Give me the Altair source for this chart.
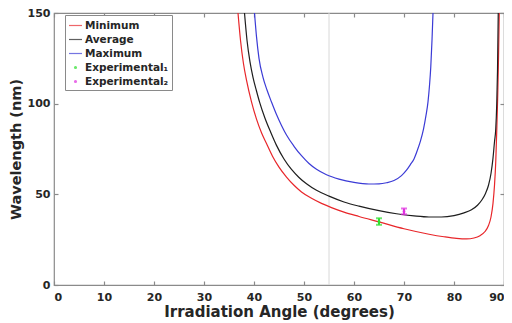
import altair as alt
import pandas as pd

# ---------------- data ----------------
series_names = ["Minimum", "Average", "Maximum", "Experimental\u2081", "Experimental\u2082"]
series_colors = ["#e8262a", "#1e1e1e", "#3b3bd6", "#2ee02e", "#e030e0"]
LINE_SYM = "M -1 0 L 1 0"
DOT_SYM = "M -0.15 0 A 0.15 0.15 0 1 0 0.15 0 A 0.15 0.15 0 1 0 -0.15 0 Z"
legend_shapes = [LINE_SYM, LINE_SYM, LINE_SYM, DOT_SYM, DOT_SYM]

min_x = [36.8, 37.3, 37.9, 38.5, 39.5, 40.5, 41.5, 42.5, 43.7, 45.0, 46.5, 48.0, 49.5, 51.5,
         53.5, 55.5, 58.0, 61.0, 65.0, 70.0, 75.0, 78.0, 80.5, 82.5, 84.0, 85.2, 86.2, 86.9,
         87.4, 87.8, 88.1, 88.35, 88.55, 88.75, 88.9, 89.05]
min_y = [150, 135, 122, 113, 101, 91.5, 84, 78, 71, 65, 59.5, 55, 51.3, 47.8,
         45, 42.7, 40.2, 37.8, 34.8, 31.0, 28.0, 26.6, 25.7, 25.4, 25.9, 27.2, 29.5, 32.8,
         37.5, 45, 55, 68, 85, 105, 125, 150]

avg_x = [38.1, 38.6, 39.2, 39.8, 40.5, 41.1, 42.2, 43.3, 44.5, 46.0, 47.5, 49.0, 50.5, 52.5,
         55.0, 58.0, 61.0, 65.0, 68.5, 72.0, 75.0, 77.5, 80.0, 82.0, 83.5, 84.7, 85.6, 86.3,
         86.9, 87.4, 87.8, 88.1, 88.35, 88.55, 88.7, 88.85]
avg_y = [150, 135, 123, 114.5, 107, 101, 92, 84.5, 77, 69.5, 63.7, 59.3, 55.8, 52.2,
         49, 45.8, 43.5, 41.0, 39.3, 38.1, 37.5, 37.5, 38.3, 39.8, 41.5, 44, 47, 50.5,
         55, 61.5, 70, 79, 86, 100, 118, 150]

max_x = [40.1, 40.5, 41.0, 41.8, 42.6, 43.5, 44.5, 45.5, 46.5, 48.0, 49.5, 51.0, 52.5, 54.5,
         57.0, 60.0, 63.0, 65.0, 66.5, 68.0, 69.5, 70.5, 71.3, 72.0, 72.7, 73.3, 73.9, 74.4,
         74.8, 75.1, 75.35, 75.6, 75.8]
max_y = [150, 137, 125, 114.5, 107.5, 100.9, 94, 88, 82.7, 76.5, 71.3, 67, 63.8, 60.8,
         58.4, 56.6, 55.7, 55.8, 56.4, 57.6, 60.3, 63.3, 66.5, 69.5, 74.5, 79.5, 86, 93.5,
         101, 110, 120, 135, 150]

exp_x = [65, 70]
exp_y = [35.0, 40.6]
exp_err = [1.8, 1.6]

ref_angle = [55]

x_ticks = [0, 10, 20, 30, 40, 50, 60, 70, 80, 90]
y_ticks = [0, 50, 100, 150]

# ---------------- tables ----------------
rows = []
for name, xs, ys in [(series_names[0], min_x, min_y),
                     (series_names[1], avg_x, avg_y),
                     (series_names[2], max_x, max_y)]:
    for i, (a, w) in enumerate(zip(xs, ys)):
        rows.append({"series": name, "angle": a, "wl": w, "order": i})
lines_df = pd.DataFrame(rows)

exp_df = pd.DataFrame({
    "series": series_names[3:],
    "angle": exp_x,
    "wl": exp_y,
    "lo": [y - e for y, e in zip(exp_y, exp_err)],
    "hi": [y + e for y, e in zip(exp_y, exp_err)],
})
vline_df = pd.DataFrame({"angle": ref_angle})

# ---------------- scales / axes ----------------
FONT = "DejaVu Sans"
TXT = "#262626"
FRAME = "#8a8a8a"
W = 450
H = 272

xscale = alt.Scale(domain=[0, 90], nice=False, padding=0)
yscale = alt.Scale(domain=[0, 150], nice=False, padding=0)
cscale = alt.Scale(domain=series_names, range=series_colors)
shscale = alt.Scale(domain=series_names, range=legend_shapes)

main_x_axis = alt.Axis(values=x_ticks, title="Irradiation Angle (degrees)", ticks=False,
                       labelPadding=6, titlePadding=2, orient="bottom",
                       labelFlush=True, labelFlushOffset=0, titleFontSize=15)
main_y_axis = alt.Axis(values=y_ticks, title="Wavelength (nm)", ticks=False,
                       labelPadding=4, titlePadding=4, orient="left", titleFontSize=14.5)


def tick_axis(vals, orient):
    return alt.Axis(values=vals, labels=False, title=None, ticks=True, tickSize=4,
                    offset=-4, orient=orient)


legend = alt.Legend(
    title=None, orient="none", legendX=11, legendY=2,
    strokeColor=FRAME, fillColor="white", padding=3, rowPadding=1,
    labelFont=FONT, labelFontWeight="bold", labelFontSize=10.5, labelColor=TXT,
    labelOffset=2, symbolStrokeWidth=1.2, symbolSize=169,
)

vrule = alt.Chart(vline_df).mark_rule(color="#d8d8d8", strokeWidth=1).encode(
    x=alt.X("angle:Q", scale=xscale, axis=main_x_axis),
    y=alt.value(0),
    y2=alt.value(H),
)

lines = alt.Chart(lines_df).mark_line(strokeWidth=1.2, interpolate="monotone", clip=True).encode(
    x=alt.X("angle:Q", scale=xscale, axis=tick_axis(x_ticks, "bottom")),
    y=alt.Y("wl:Q", scale=yscale, axis=main_y_axis),
    color=alt.Color("series:N", scale=cscale, legend=legend),
    order="order:Q",
)

err = alt.Chart(exp_df).mark_rule(strokeWidth=2).encode(
    x=alt.X("angle:Q", scale=xscale, axis=tick_axis(x_ticks, "top")),
    y=alt.Y("lo:Q", scale=yscale, axis=tick_axis(y_ticks, "left")),
    y2="hi:Q",
    color=alt.Color("series:N", scale=cscale, legend=legend),
)

caps_lo = alt.Chart(exp_df).mark_tick(orient="horizontal", size=6, thickness=2).encode(
    x=alt.X("angle:Q", scale=xscale, axis=None),
    y=alt.Y("lo:Q", scale=yscale, axis=tick_axis(y_ticks, "right")),
    color=alt.Color("series:N", scale=cscale, legend=legend),
)
caps_hi = alt.Chart(exp_df).mark_tick(orient="horizontal", size=6, thickness=2).encode(
    x=alt.X("angle:Q", scale=xscale, axis=None),
    y=alt.Y("hi:Q", scale=yscale, axis=None),
    color=alt.Color("series:N", scale=cscale, legend=legend),
)

centers = alt.Chart(exp_df).mark_point(filled=False, strokeWidth=1.2, size=169).encode(
    x=alt.X("angle:Q", scale=xscale, axis=None),
    y=alt.Y("wl:Q", scale=yscale, axis=None),
    color=alt.Color("series:N", scale=cscale, legend=legend),
    shape=alt.Shape("series:N", scale=shscale, legend=legend),
)

chart = alt.layer(vrule, lines, err, caps_lo, caps_hi, centers).resolve_axis(
    x="independent", y="independent"
).properties(
    width=W, height=H,
    autosize=alt.AutoSizeParams(type="none"),
    padding={"left": 46, "top": 5, "right": 0, "bottom": 38},
).configure_view(
    stroke=FRAME, strokeWidth=1.2
).configure_axis(
    grid=False, domain=False, tickColor=FRAME, tickWidth=1.2,
    labelFont=FONT, labelFontWeight="bold", labelFontSize=11, labelColor=TXT,
    titleFont=FONT, titleFontWeight="bold", titleColor=TXT,
)

chart.save("out.html", embed_options={"renderer": "svg", "actions": False})
